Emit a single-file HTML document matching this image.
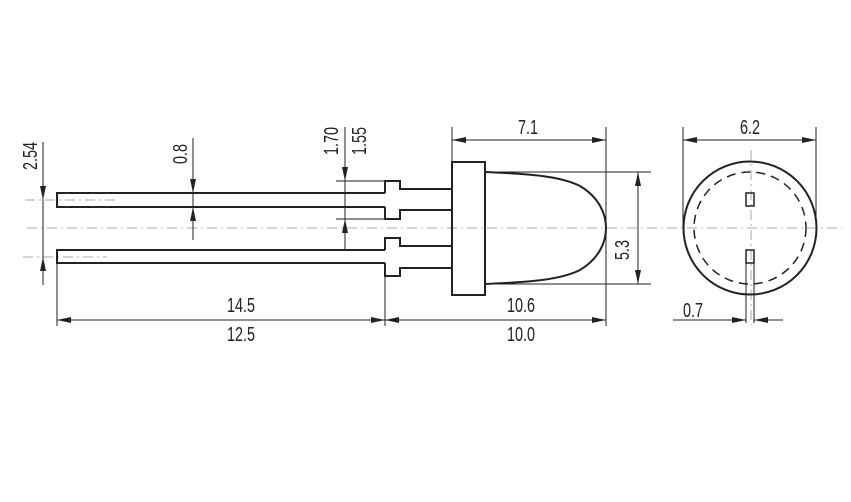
<!DOCTYPE html>
<html><head><meta charset="utf-8"><style>
html,body{margin:0;padding:0;background:#fff;}
svg{display:block;}
text{font-family:"Liberation Sans Narrow","Liberation Sans",sans-serif;font-size:20px;fill:#222;}
</style></head><body>
<svg width="851" height="502" viewBox="0 0 851 502" xmlns="http://www.w3.org/2000/svg">
<defs>
<marker id="a" viewBox="0 0 14 6" refX="14" refY="3" markerWidth="14" markerHeight="6" markerUnits="userSpaceOnUse" orient="auto-start-reverse"><path d="M0,0 L14,3 L0,6 Z" fill="#222"/></marker>
</defs>
<g stroke="#aaa" stroke-width="1" stroke-dasharray="10,4,2,4" fill="none">
<line x1="27" y1="228" x2="842" y2="228"/>
<line x1="25" y1="200" x2="115" y2="200"/>
<line x1="23" y1="257" x2="107" y2="257"/>
<line x1="751" y1="150" x2="751" y2="325"/>
</g>
<g stroke="#222" stroke-width="2" fill="none">
<path d="M385,193 H57 V207 H385"/>
<path d="M385,193 V181 H400 V189 H452 M385,207 V219 H400 V210 H452"/>
<path d="M385,250 H57 V263 H385"/>
<path d="M385,250 V238 H400 V246 H452 M385,263 V276 H400 V268 H452"/>
<rect x="452" y="162" width="33" height="133"/>
<path d="M485,172 C530,174 560,176 580,186 C600,198 606,215 606,228 C606,241 600,258 580,270 C560,280 530,282 485,284"/>
<circle cx="750" cy="228" r="66.5"/>
<rect x="746" y="193" width="8" height="13" stroke-width="1.5"/>
<rect x="746" y="250" width="8" height="13" stroke-width="1.5"/>
</g>
<circle cx="750" cy="228" r="56" stroke="#222" stroke-width="1.5" fill="none" stroke-dasharray="9,6"/>
<g stroke="#222" stroke-width="1" fill="none">
<line x1="746" y1="263" x2="746" y2="323"/>
<line x1="754" y1="263" x2="754" y2="323"/>
<line x1="485" y1="172" x2="651" y2="172"/>
<line x1="485" y1="284" x2="651" y2="284"/>
<line x1="452" y1="127" x2="452" y2="162"/>
<line x1="606" y1="127" x2="606" y2="326"/>
<line x1="385" y1="276" x2="385" y2="326"/>
<line x1="57" y1="263" x2="57" y2="326"/>
<line x1="683" y1="127" x2="683" y2="228"/>
<line x1="816" y1="127" x2="816" y2="228"/>
<line x1="336" y1="181" x2="385" y2="181"/>
<line x1="336" y1="219" x2="385" y2="219"/>
<line x1="452" y1="140" x2="606" y2="140" marker-start="url(#a)" marker-end="url(#a)"/>
<line x1="683" y1="140" x2="816" y2="140" marker-start="url(#a)" marker-end="url(#a)"/>
<line x1="638" y1="172" x2="638" y2="284" marker-start="url(#a)" marker-end="url(#a)"/>
<line x1="57" y1="320" x2="385" y2="320" marker-start="url(#a)" marker-end="url(#a)"/>
<line x1="385" y1="320" x2="606" y2="320" marker-start="url(#a)" marker-end="url(#a)"/>
<line x1="673" y1="320" x2="746" y2="320" marker-end="url(#a)"/>
<line x1="783" y1="320" x2="754" y2="320" marker-end="url(#a)"/>
<line x1="43" y1="142" x2="43" y2="200" marker-end="url(#a)"/>
<line x1="43" y1="285" x2="43" y2="257" marker-end="url(#a)"/>
<line x1="43" y1="200" x2="43" y2="257"/>
<line x1="193" y1="138" x2="193" y2="193" marker-end="url(#a)"/>
<line x1="193" y1="240" x2="193" y2="207" marker-end="url(#a)"/>
<line x1="193" y1="193" x2="193" y2="207"/>
<line x1="345" y1="127" x2="345" y2="181" marker-end="url(#a)"/>
<line x1="345" y1="250" x2="345" y2="219" marker-end="url(#a)"/>
<line x1="345" y1="181" x2="345" y2="219"/>
</g>
<g text-anchor="middle">
<text transform="translate(528 134) scale(0.72 1)">7.1</text>
<text transform="translate(750 134) scale(0.72 1)">6.2</text>
<text transform="translate(241 312) scale(0.72 1)">14.5</text>
<text transform="translate(241 341) scale(0.72 1)">12.5</text>
<text transform="translate(521 312) scale(0.72 1)">10.6</text>
<text transform="translate(521 341) scale(0.72 1)">10.0</text>
<text transform="translate(693 317) scale(0.72 1)">0.7</text>
<text transform="translate(37 156) rotate(-90) scale(0.72 1)">2.54</text>
<text transform="translate(187 154) rotate(-90) scale(0.72 1)">0.8</text>
<text transform="translate(338 141) rotate(-90) scale(0.72 1)">1.70</text>
<text transform="translate(366 141) rotate(-90) scale(0.72 1)">1.55</text>
<text transform="translate(629 250) rotate(-90) scale(0.72 1)">5.3</text>
</g>
</svg>
</body></html>
